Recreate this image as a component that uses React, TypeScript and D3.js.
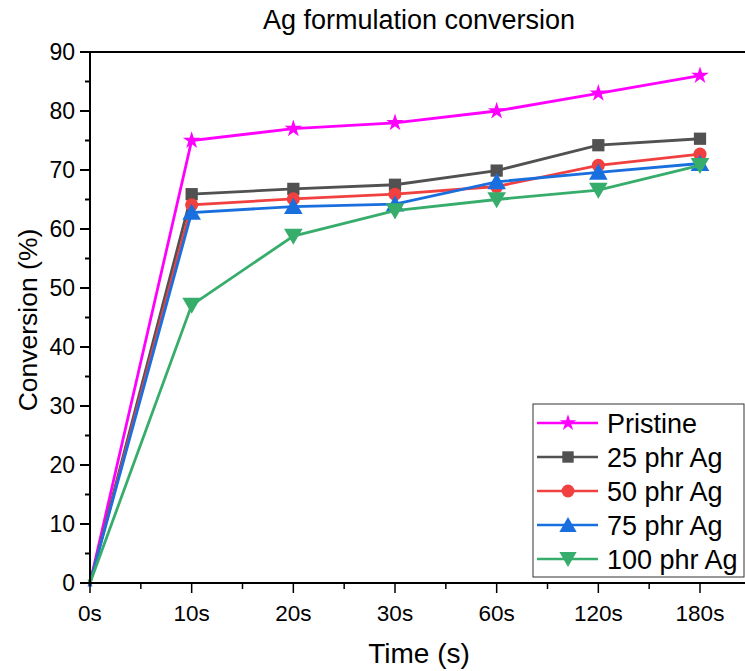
import React from "react";
import * as d3 from "d3";

const categories = ["0s", "10s", "20s", "30s", "60s", "120s", "180s"];
const yTicks = [0, 10, 20, 30, 40, 50, 60, 70, 80, 90];
const pristine = [0, 75, 77, 78, 80, 83, 86];
const phr25 = [0, 65.9, 66.8, 67.5, 69.9, 74.2, 75.3];
const phr50 = [0, 64.1, 65.1, 65.9, 67.2, 70.8, 72.7];
const phr75 = [0, 62.8, 63.8, 64.2, 68.0, 69.6, 71.1];
const phr100 = [0, 47.1, 58.8, 63.1, 65.0, 66.6, 70.8];
const seriesNames = ["Pristine", "25 phr Ag", "50 phr Ag", "75 phr Ag", "100 phr Ag"];
const seriesColors = ["#FF00FF", "#515151", "#F14040", "#1A6FDF", "#37AD6B"];
const seriesShapes = ["star", "square", "circle", "triangle", "triangleDown"];
const seriesData = [pristine, phr25, phr50, phr75, phr100];

const FONT = "Liberation Sans, Arial, sans-serif";

const symbolFor = (shape: string, size: number) => {
  const map: any = {
    star: d3.symbolStar,
    square: d3.symbolSquare,
    circle: d3.symbolCircle,
    triangle: d3.symbolTriangle,
    triangleDown: d3.symbolTriangle,
  };
  return d3.symbol().type(map[shape]).size(size)() as string;
};

const Marker = ({ shape, color, x, y, size }: any) => {
  const rot = shape === "triangleDown" ? 180 : 0;
  const dy = shape === "triangle" ? 2 : shape === "triangleDown" ? -2 : 0;
  return (
    <path
      d={symbolFor(shape, size)}
      transform={`translate(${x},${y + dy}) rotate(${rot})`}
      fill={color}
    />
  );
};

export default function App() {
  const W = 745;
  const H = 671;
  const left = 90;
  const top = 52;
  const bottom = 583;
  const x = d3.scaleLinear().domain([0, 6]).range([90, 700]);
  const y = d3.scaleLinear().domain([0, 90]).range([bottom, top]);
  const line = d3
    .line<number>()
    .x((_, i) => x(i))
    .y((d) => y(d));

  const minorX = d3.range(0.5, 6.6, 1);
  const minorY = d3.range(5, 90, 10);

  const legX = 533;
  const legY = 404;
  const legW = 211;
  const legH = 173;

  const markerSize = (shape: string) =>
    shape === "star" ? 95 : shape === "circle" ? 135 : 150;

  return (
    <div style={{ position: "absolute", left: 0, top: 0 }}>
      <svg width={W} height={H} style={{ display: "block", background: "#fff" }}>
        <rect x={0} y={0} width={W} height={H} fill="#fff" />
        {/* title */}
        <text x={419} y={29} textAnchor="middle" fontFamily={FONT} fontSize={27} fill="#000">
          Ag formulation conversion
        </text>
        {/* series */}
        {seriesData.map((d, si) => (
          <g key={si}>
            <path d={line(d) as string} fill="none" stroke={seriesColors[si]} strokeWidth={2.8} />
            {d.map((v, i) => (
              <Marker
                key={i}
                shape={seriesShapes[si]}
                color={seriesColors[si]}
                x={x(i)}
                y={y(v)}
                size={i === 0 ? 12 : markerSize(seriesShapes[si])}
              />
            ))}
          </g>
        ))}
        {/* axes frame */}
        <line x1={left} x2={W + 5} y1={top} y2={top} stroke="#000" strokeWidth={2} />
        <line x1={left} x2={W + 5} y1={bottom} y2={bottom} stroke="#000" strokeWidth={2} />
        <line x1={left} x2={left} y1={top - 1} y2={bottom + 1} stroke="#000" strokeWidth={2} />
        {/* y ticks */}
        {yTicks.map((t) => (
          <g key={t}>
            <line x1={left - 10} x2={left} y1={y(t)} y2={y(t)} stroke="#000" strokeWidth={2} />
            <text
              x={75}
              y={y(t)}
              dy="0.36em"
              textAnchor="end"
              fontFamily={FONT}
              fontSize={23}
              fill="#000"
            >
              {t}
            </text>
          </g>
        ))}
        {minorY.map((t) => (
          <line key={t} x1={left - 5} x2={left} y1={y(t)} y2={y(t)} stroke="#000" strokeWidth={2} />
        ))}
        {/* x ticks */}
        {categories.map((c, i) => (
          <g key={c}>
            <line x1={x(i)} x2={x(i)} y1={bottom} y2={bottom + 10} stroke="#000" strokeWidth={1.5} />
            <text
              x={x(i)}
              y={bottom + 38}
              textAnchor="middle"
              fontFamily={FONT}
              fontSize={22.5}
              fill="#000"
            >
              {c}
            </text>
          </g>
        ))}
        {minorX.map((t) => (
          <line key={t} x1={x(t)} x2={x(t)} y1={bottom} y2={bottom + 6} stroke="#000" strokeWidth={1.5} />
        ))}
        {/* axis titles */}
        <text x={419} y={663} textAnchor="middle" fontFamily={FONT} fontSize={28} fill="#000">
          Time (s)
        </text>
        <text
          transform={`translate(37,320) rotate(-90)`}
          textAnchor="middle"
          fontFamily={FONT}
          fontSize={26.5}
          fill="#000"
        >
          Conversion (%)
        </text>
        {/* legend */}
        <rect x={legX} y={legY} width={legW} height={legH} fill="#fff" stroke="#333" strokeWidth={1} />
        {seriesNames.map((n, i) => {
          const cy = legY + 19 + i * 34;
          return (
            <g key={n}>
              <line x1={legX + 4} x2={legX + 65} y1={cy} y2={cy} stroke={seriesColors[i]} strokeWidth={2.6} />
              <Marker
                shape={seriesShapes[i]}
                color={seriesColors[i]}
                x={legX + 35}
                y={cy}
                size={seriesShapes[i] === "star" ? 85 : 130}
              />
              <text x={legX + 74} y={cy} dy="0.36em" fontFamily={FONT} fontSize={27} fill="#000">
                {n}
              </text>
            </g>
          );
        })}
      </svg>
    </div>
  );
}
